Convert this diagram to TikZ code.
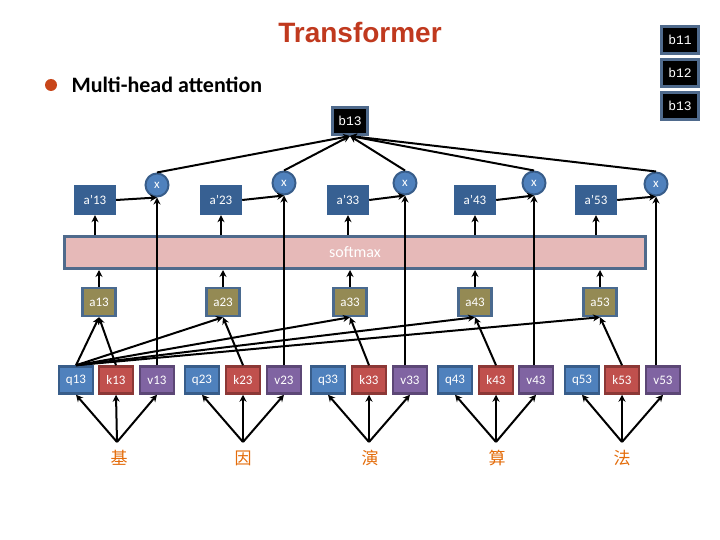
\documentclass[tikz,border=0pt]{standalone}
\usepackage{fontspec}
\setmainfont{Carlito}
\newfontfamily\titlefont{Liberation Sans}
\newfontfamily\bmono{Liberation Mono}
\newfontfamily\cjkfont{Noto Sans CJK SC}
\usetikzlibrary{arrows.meta}
\definecolor{qfill}{HTML}{4F81BD}
\definecolor{qborder}{HTML}{385D8A}
\definecolor{kfill}{HTML}{C0504D}
\definecolor{kborder}{HTML}{8C3836}
\definecolor{vfill}{HTML}{8064A2}
\definecolor{vborder}{HTML}{5C4776}
\definecolor{afill}{HTML}{948A54}
\definecolor{aborder}{HTML}{4A6A8F}
\definecolor{apfill}{HTML}{376092}
\definecolor{smfill}{HTML}{E6B9B8}
\definecolor{smborder}{HTML}{4F6A8C}
\definecolor{titlecol}{HTML}{C0391E}
\definecolor{bulletcol}{HTML}{C8461A}
\definecolor{wordcol}{HTML}{E46C0A}
\tikzset{
  box/.style={draw, line width=2.5pt, minimum width=34pt, minimum height=27pt, inner sep=0pt, text=white, font=\fontsize{13}{15}\selectfont},
  qbox/.style={box, fill=qfill, draw=qborder},
  kbox/.style={box, fill=kfill, draw=kborder},
  vbox/.style={box, fill=vfill, draw=vborder},
  abox/.style={box, fill=afill, draw=aborder, minimum width=33pt, minimum height=28pt},
  apbox/.style={fill=apfill, minimum width=42pt, minimum height=30pt, inner sep=0pt, text=white, font=\fontsize{13}{15}\selectfont},
  mul/.style={circle, fill=qfill, draw=qborder, line width=2pt, minimum size=23pt, inner sep=0pt, text=white, font=\fontsize{13}{15}\selectfont},
  bbox/.style={fill=black, draw=smborder, line width=3pt, minimum width=35pt, minimum height=27pt, inner sep=0pt, text=white, font=\bmono\fontsize{13}{15}\selectfont},
  smbox/.style={fill=smfill, draw=smborder, line width=3pt, inner sep=0pt, text=white, font=\fontsize{16}{18}\selectfont},
  word/.style={text=wordcol, font=\cjkfont\fontsize{17}{19}\selectfont, inner sep=0pt},
  arr/.style={-{Stealth[length=7pt,width=7pt]}, line width=2pt, black},
}
\begin{document}
\begin{tikzpicture}[x=1pt,y=-1pt]
\useasboundingbox (0,0) rectangle (720,540);
\fill[white] (0,0) rectangle (720,540);
% title
\node[text=titlecol, font=\titlefont\bfseries\fontsize{28}{32}\selectfont] (title) at (360,32) {Transformer};
\fill[bulletcol] (51,85) circle (6);
\node[anchor=west, font=\bfseries\fontsize{22}{26}\selectfont] (mha) at (68,85) {Multi-head attention};
% b boxes right
\node[bbox, minimum width=37pt] (b11) at (680,40) {b11};
\node[bbox, minimum width=37pt] (b12) at (680,73) {b12};
\node[bbox, minimum width=37pt] (b13r) at (680,106) {b13};
% central b13
\node[bbox] (b13) at (350,121) {b13};
% a' boxes and multipliers
\node[apbox] (ap1) at (95,200) {a’13};
\node[apbox] (ap2) at (221,200) {a’23};
\node[apbox] (ap3) at (348,200) {a’33};
\node[apbox] (ap4) at (475,200) {a’43};
\node[apbox] (ap5) at (596,200) {a’53};
\node[mul] (m1) at (157,185) {x};
\node[mul] (m2) at (284,183) {x};
\node[mul] (m3) at (405,183) {x};
\node[mul] (m4) at (534,183) {x};
\node[mul] (m5) at (656,184) {x};
% softmax
\node[smbox, minimum width=581pt, minimum height=32pt] (sm) at (355,252.5) {softmax};
% a boxes
\node[abox] (a1) at (99,302) {a13};
\node[abox] (a2) at (223,302) {a23};
\node[abox] (a3) at (350,302) {a33};
\node[abox] (a4) at (475,302) {a43};
\node[abox] (a5) at (600,302) {a53};
% q k v
\node[qbox] (q1) at (76,380) {q13};
\node[kbox] (k1) at (116,380) {k13};
\node[vbox] (v1) at (157,380) {v13};
\node[qbox] (q2) at (202,380) {q23};
\node[kbox] (k2) at (243,380) {k23};
\node[vbox] (v2) at (284,380) {v23};
\node[qbox] (q3) at (328,380) {q33};
\node[kbox] (k3) at (369,380) {k33};
\node[vbox] (v3) at (410,380) {v33};
\node[qbox] (q4) at (455,380) {q43};
\node[kbox] (k4) at (496,380) {k43};
\node[vbox] (v4) at (536,380) {v43};
\node[qbox] (q5) at (582,380) {q53};
\node[kbox] (k5) at (622,380) {k53};
\node[vbox] (v5) at (663,380) {v53};
% words
\coordinate (c1) at (117,442);
\coordinate (c2) at (243,442);
\coordinate (c3) at (369,442);
\coordinate (c4) at (496,442);
\coordinate (c5) at (622,442);
\node[word] (w1) at (119,458) {基};
\node[word] (w2) at (243,458) {因};
\node[word] (w3) at (370,458) {演};
\node[word] (w4) at (497,458) {算};
\node[word] (w5) at (622,458) {法};
% word -> qkv
\foreach \i in {1,...,5}{
  \draw[arr] (c\i) -- (q\i.south);
  \draw[arr] (c\i) -- (k\i.south);
  \draw[arr] (c\i) -- (v\i.south);
}
% q13 -> a, k -> a
\foreach \i in {1,...,5}{
  \draw[arr] (q1.north) -- (a\i.south);
  \draw[arr] (k\i.north) -- (a\i.south);
}
% a -> softmax -> a'
\foreach \i in {1,...,5}{
  \draw[arr] (a\i.north) -- (a\i.north |- sm.south);
  \draw[arr] (ap\i.south |- sm.north) -- (ap\i.south);
}
% v -> mul, a' -> mul, mul -> b13
\foreach \i in {1,...,5}{
  \draw[arr] (m\i.south |- v\i.north) -- (m\i.south);
  \draw[arr] (ap\i.east) -- (m\i.south);
  \draw[arr] (m\i.north) -- (b13.south);
}
\end{tikzpicture}
\end{document}
